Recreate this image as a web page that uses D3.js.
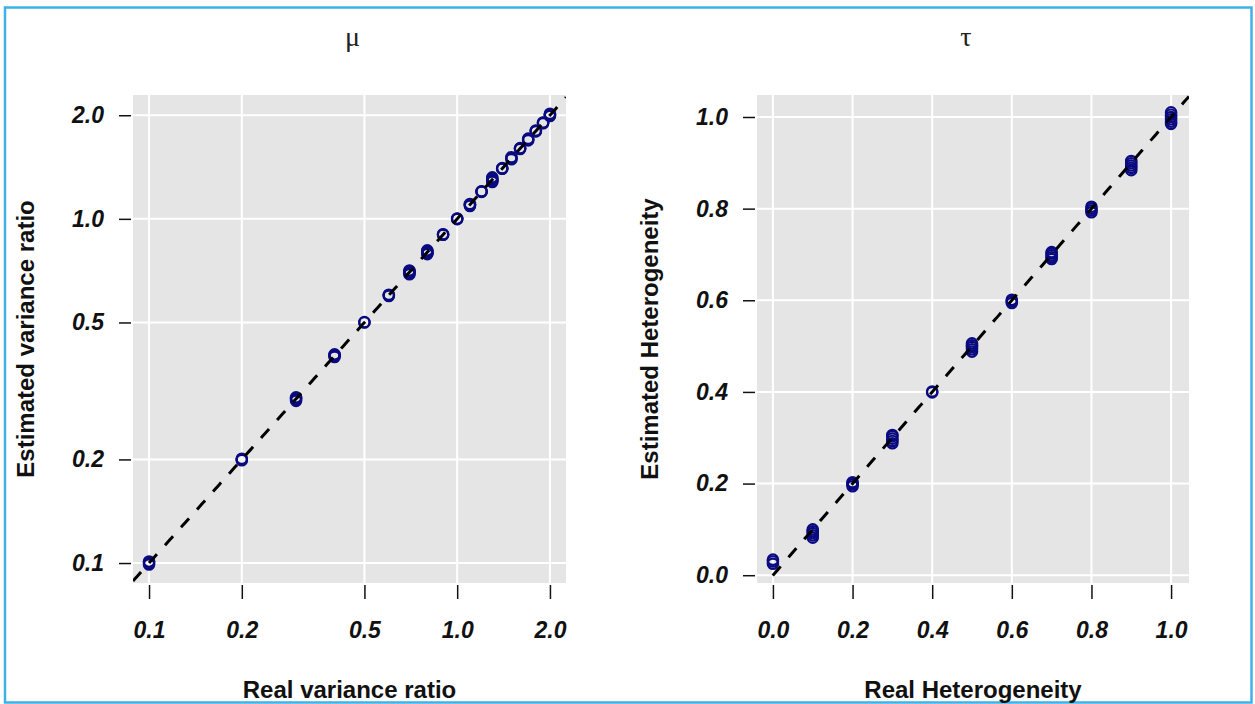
<!DOCTYPE html>
<html>
<head>
<meta charset="utf-8">
<script src="https://cdn.jsdelivr.net/npm/d3@7"></script>
<style>
  html, body { margin: 0; padding: 0; background: #ffffff; }
  svg { display: block; }
</style>
</head>
<body>
<svg id="chart" width="1255" height="704"></svg>
<script>
// ---- Variance ratio (mu panel): true ratios and estimated replicates ----
const ratioReal = [0.1, 0.2, 0.3, 0.4, 0.5, 0.6, 0.7, 0.8, 0.9, 1.0,
                   1.1, 1.2, 1.3, 1.4, 1.5, 1.6, 1.7, 1.8, 1.9, 2.0];
const ratioEst = [
  [0.099, 0.100, 0.101],
  [0.199, 0.200, 0.201],
  [0.296, 0.299, 0.301, 0.303],
  [0.397, 0.400, 0.402, 0.404],
  [0.500, 0.501],
  [0.597, 0.600, 0.602],
  [0.690, 0.695, 0.700, 0.705, 0.708],
  [0.790, 0.795, 0.800, 0.805, 0.810],
  [0.899, 0.900, 0.902],
  [0.998, 1.000, 1.002],
  [1.090, 1.095, 1.100, 1.105],
  [1.198, 1.200, 1.203],
  [1.280, 1.290, 1.300, 1.310, 1.320],
  [1.398, 1.400, 1.404],
  [1.490, 1.500, 1.510],
  [1.595, 1.600, 1.605],
  [1.690, 1.700, 1.710],
  [1.795, 1.800, 1.805],
  [1.895, 1.900, 1.905],
  [1.990, 2.000, 2.010, 2.020]
];
const ratioTicks = [0.1, 0.2, 0.5, 1.0, 2.0];

// ---- Heterogeneity (tau panel): true values and estimated replicates ----
const hetReal = [0.0, 0.1, 0.2, 0.3, 0.4, 0.5, 0.6, 0.7, 0.8, 0.9, 1.0];
const hetEst = [
  [0.025, 0.030, 0.034],
  [0.082, 0.087, 0.092, 0.096, 0.100],
  [0.194, 0.198, 0.200, 0.203],
  [0.288, 0.293, 0.298, 0.303, 0.306],
  [0.399, 0.401],
  [0.488, 0.493, 0.498, 0.502, 0.506],
  [0.594, 0.598, 0.601],
  [0.690, 0.694, 0.698, 0.702, 0.705],
  [0.792, 0.796, 0.800, 0.804],
  [0.884, 0.889, 0.894, 0.899, 0.904],
  [0.985, 0.990, 0.995, 1.000, 1.005, 1.010]
];
const hetTicks = [0.0, 0.2, 0.4, 0.6, 0.8, 1.0];

const svg = d3.select("#chart");
const POINT = "#0a0a80";
const BG = "#e5e5e5";
const SANS = "'Liberation Sans', Arial, sans-serif";

// outer frame
svg.append("rect")
  .attr("x", 5).attr("y", 7.5).attr("width", 1246.5).attr("height", 695)
  .attr("fill", "none").attr("stroke", "#3eb1e6").attr("stroke-width", 2.5);

function panel(cfg) {
  const { id, x, y, data, real, ticks, fmt, title, titleDx, xTitle, yTitle, box, yTitleX } = cfg;
  const g = svg.append("g");

  g.append("clipPath").attr("id", id)
    .append("rect").attr("x", box.x0).attr("y", box.y0)
    .attr("width", box.x1 - box.x0).attr("height", box.y1 - box.y0);

  g.append("rect")
    .attr("x", box.x0).attr("y", box.y0)
    .attr("width", box.x1 - box.x0).attr("height", box.y1 - box.y0)
    .attr("fill", BG);

  // white grid at the major ticks
  g.selectAll(".gx").data(ticks).enter().append("line")
    .attr("x1", d => x(d)).attr("x2", d => x(d))
    .attr("y1", box.y0).attr("y2", box.y1)
    .attr("stroke", "#ffffff").attr("stroke-width", 2);
  g.selectAll(".gy").data(ticks).enter().append("line")
    .attr("y1", d => y(d)).attr("y2", d => y(d))
    .attr("x1", box.x0).attr("x2", box.x1)
    .attr("stroke", "#ffffff").attr("stroke-width", 2);

  // points: every replicate estimate against its true value
  const pts = [];
  real.forEach((r, i) => data[i].forEach(e => pts.push([r, e])));
  g.append("g").attr("clip-path", `url(#${id})`)
    .selectAll("circle").data(pts).enter().append("circle")
    .attr("cx", d => x(d[0])).attr("cy", d => y(d[1]))
    .attr("r", 5.2).attr("fill", "none")
    .attr("stroke", POINT).attr("stroke-width", 2.2);

  // identity line across the whole plotting region
  const lineData = d3.range(0, 201).map(k =>
    x.invert(x.range()[0] + (k / 200) * (x.range()[1] - x.range()[0])));
  g.append("path").attr("clip-path", `url(#${id})`)
    .datum(lineData)
    .attr("d", d3.line().x(d => x(d)).y(d => y(d)))
    .attr("fill", "none").attr("stroke", "#000").attr("stroke-width", 3)
    .attr("stroke-dasharray", "12,12");

  // axes: ticks only, labels bold italic
  const xa = g.append("g").attr("transform", `translate(0,${box.y1 + 2})`)
    .call(d3.axisBottom(x).tickValues(ticks).tickFormat(fmt).tickSize(14).tickPadding(23));
  const ya = g.append("g").attr("transform", `translate(${box.x0 - 2},0)`)
    .call(d3.axisLeft(y).tickValues(ticks).tickFormat(fmt).tickSize(12).tickPadding(15));
  [xa, ya].forEach(a => {
    a.select(".domain").remove();
    a.selectAll(".tick line").attr("stroke", "#111").attr("stroke-width", 1.5);
    a.selectAll(".tick text")
      .attr("font-family", SANS).attr("font-size", 23)
      .attr("font-weight", "bold").attr("font-style", "italic").attr("fill", "#111");
  });

  const cx = (box.x0 + box.x1) / 2;
  const cy = (box.y0 + box.y1) / 2;
  g.append("text").attr("x", cx + titleDx).attr("y", 46)
    .attr("text-anchor", "middle")
    .attr("font-family", "'Liberation Serif', 'DejaVu Serif', serif")
    .attr("font-size", 28).attr("fill", "#222").text(title);
  g.append("text").attr("x", cx).attr("y", 698)
    .attr("text-anchor", "middle")
    .attr("font-family", SANS).attr("font-size", 24).attr("font-weight", "bold")
    .attr("fill", "#111").text(xTitle);
  g.append("text")
    .attr("transform", `translate(${yTitleX},${cy}) rotate(-90)`)
    .attr("text-anchor", "middle")
    .attr("font-family", SANS).attr("font-size", 24).attr("font-weight", "bold")
    .attr("fill", "#111").text(yTitle);
}

// left panel: log-log
const boxL = { x0: 133, x1: 566, y0: 95, y1: 583 };
panel({
  id: "clipL",
  x: d3.scaleLog().domain([0.0887, 2.255]).range([boxL.x0, boxL.x1]),
  y: d3.scaleLog().domain([0.0875, 2.29]).range([boxL.y1, boxL.y0]),
  data: ratioEst, real: ratioReal, ticks: ratioTicks,
  fmt: d3.format(".1f"),
  title: "\u03bc", titleDx: 3,
  xTitle: "Real variance ratio", yTitle: "Estimated variance ratio",
  box: boxL, yTitleX: 34
});

// right panel: linear
const boxR = { x0: 757, x1: 1189, y0: 95, y1: 583 };
panel({
  id: "clipR",
  x: d3.scaleLinear().domain([-0.04, 1.045]).range([boxR.x0, boxR.x1]),
  y: d3.scaleLinear().domain([-0.017, 1.048]).range([boxR.y1, boxR.y0]),
  data: hetEst, real: hetReal, ticks: hetTicks,
  fmt: d3.format(".1f"),
  title: "\u03c4", titleDx: -7,
  xTitle: "Real Heterogeneity", yTitle: "Estimated Heterogeneity",
  box: boxR, yTitleX: 658
});
</script>
</body>
</html>
